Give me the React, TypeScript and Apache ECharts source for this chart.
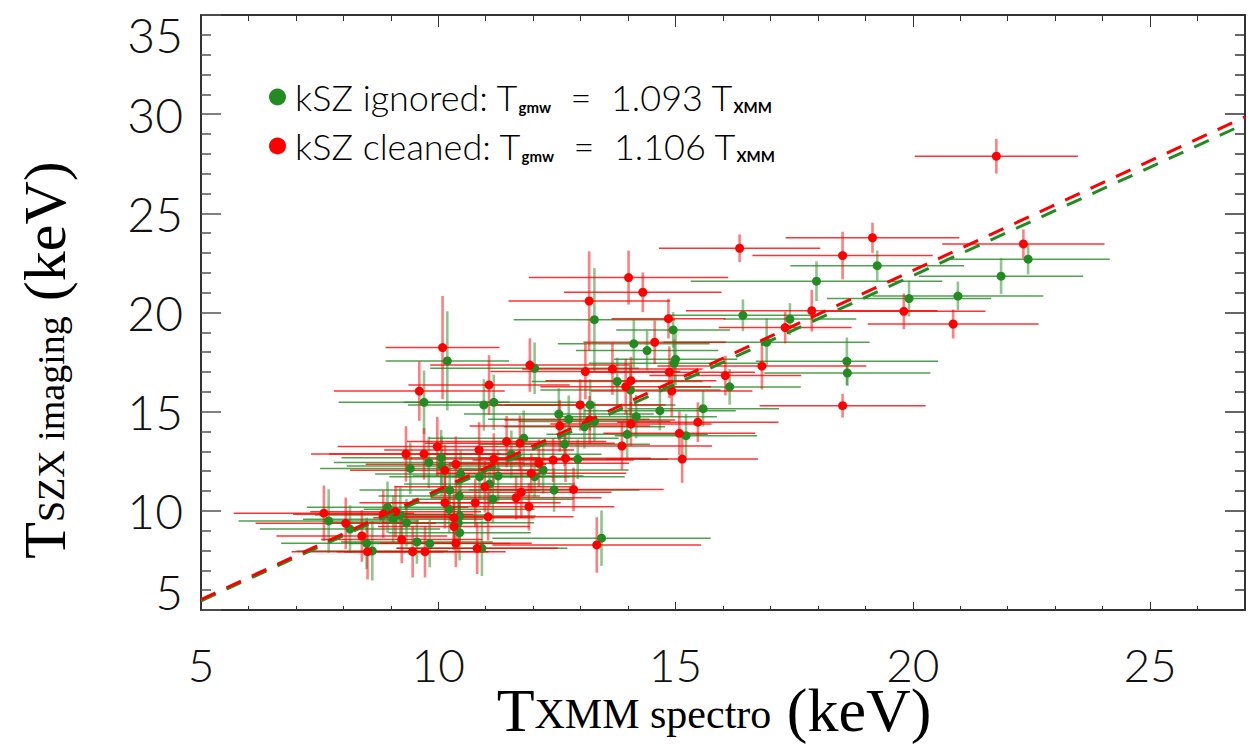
import React, { useEffect, useRef } from "react";
import * as echarts from "echarts";

// kSZ ignored (green)
const greenX = [22.43, 21.86, 20.95, 19.92, 19.25, 17.97, 18.61, 18.62, 17.41, 16.92, 16.42, 16.14, 15.58, 15.22, 15.0, 14.97, 14.95, 14.67, 14.4, 14.12, 14.17, 14.05, 13.98, 13.77, 13.44, 13.29, 13.29, 13.2, 13.08, 12.94, 12.75, 12.66, 12.54, 12.44, 12.21, 12.03, 12.03, 11.8, 11.54, 11.26, 11.17, 11.15, 11.08, 10.96, 10.92, 10.87, 10.47, 10.45, 10.45, 10.44, 10.42, 10.24, 10.23, 10.19, 10.07, 10.06, 9.82, 9.8, 9.7, 9.55, 9.41, 9.33, 9.2, 9.05, 8.93, 8.61, 8.49, 8.14, 7.69];
const greenY = [22.69, 21.83, 20.83, 20.7, 22.36, 21.58, 17.54, 16.95, 19.67, 18.5, 19.86, 16.25, 15.15, 13.79, 17.64, 17.44, 19.12, 15.05, 18.08, 18.43, 14.75, 16.09, 13.86, 16.52, 8.62, 19.64, 14.5, 15.34, 14.24, 12.6, 14.62, 13.36, 14.88, 11.05, 12.06, 17.19, 11.72, 13.66, 12.85, 11.76, 15.47, 10.58, 11.35, 15.34, 8.11, 11.72, 11.86, 9.74, 8.9, 10.75, 9.4, 11.05, 10.08, 17.56, 12.26, 12.68, 8.35, 12.44, 15.47, 8.43, 12.14, 9.4, 9.79, 9.58, 10.18, 7.98, 8.36, 9.08, 9.49];
const greenXErr = [1.72, 1.73, 1.8, 1.73, 1.83, 2.65, 1.92, 1.75, 1.4, 2.17, 1.6, 1.5, 1.6, 1.5, 1.3, 1.8, 1.2, 1.6, 1.5, 1.6, 1.7, 1.9, 1.7, 1.8, 2.3, 1.7, 1.6, 1.8, 1.7, 1.9, 1.7, 1.8, 2.0, 1.8, 1.8, 2.2, 1.9, 2.0, 1.9, 1.8, 1.9, 1.7, 1.8, 1.6, 1.8, 1.9, 1.8, 1.6, 1.5, 1.7, 1.6, 1.9, 1.8, 1.3, 2.0, 2.1, 1.7, 2.0, 1.8, 1.6, 1.9, 1.7, 1.8, 1.9, 1.7, 1.6, 1.8, 1.9, 1.9];
const greenYErr = [0.77, 0.9, 0.73, 0.9, 0.76, 1.0, 1.2, 0.65, 0.8, 1.2, 0.8, 0.9, 0.9, 1.1, 1.3, 1.2, 0.9, 1.0, 1.0, 1.2, 1.1, 1.3, 1.2, 1.2, 1.4, 2.6, 1.0, 1.3, 1.1, 1.0, 1.2, 1.1, 1.3, 1.1, 1.2, 1.3, 1.0, 1.4, 1.2, 1.3, 1.4, 1.2, 1.1, 1.3, 1.4, 1.2, 1.2, 1.3, 1.4, 1.3, 1.5, 1.3, 1.2, 2.5, 1.5, 1.4, 1.2, 1.3, 1.6, 1.1, 1.3, 1.2, 1.4, 1.2, 1.3, 1.5, 1.3, 1.2, 1.6];

// kSZ cleaned (red)
const redX = [21.76, 22.33, 20.85, 19.81, 19.15, 18.52, 18.52, 17.87, 17.31, 16.82, 16.35, 16.05, 15.47, 15.14, 15.08, 14.92, 14.87, 14.85, 14.56, 14.31, 14.06, 14.06, 14.01, 13.95, 13.87, 13.67, 13.34, 13.19, 13.18, 13.1, 12.99, 12.85, 12.68, 12.56, 12.42, 12.12, 11.96, 11.93, 11.91, 11.75, 11.72, 11.64, 11.44, 11.17, 11.07, 11.05, 10.98, 10.86, 10.82, 10.78, 10.37, 10.37, 10.33, 10.33, 10.14, 10.14, 10.09, 9.98, 9.72, 9.7, 9.6, 9.46, 9.32, 9.23, 9.1, 8.84, 8.51, 8.39, 8.05, 7.59];
const redY = [27.88, 23.46, 19.42, 20.06, 23.77, 22.87, 15.3, 20.09, 19.24, 17.3, 23.24, 16.82, 14.47, 12.61, 13.91, 16.04, 16.99, 19.69, 18.5, 21.02, 16.56, 14.38, 21.76, 16.26, 13.27, 17.15, 8.28, 14.58, 20.58, 17.02, 15.34, 11.08, 12.65, 14.28, 12.56, 12.4, 11.89, 17.35, 10.21, 10.94, 13.41, 10.66, 13.49, 12.61, 16.35, 9.7, 11.22, 13.07, 8.11, 10.41, 12.35, 8.36, 9.65, 9.21, 12.04, 10.41, 18.23, 13.24, 7.94, 12.87, 16.04, 7.94, 12.87, 8.56, 9.96, 9.83, 7.94, 8.73, 9.37, 9.88];
const redXErr = [1.72, 1.71, 1.8, 1.72, 1.83, 1.9, 1.75, 2.65, 1.4, 2.2, 1.7, 1.6, 1.7, 1.6, 1.6, 1.7, 1.8, 1.2, 1.5, 1.66, 1.8, 1.7, 2.1, 1.8, 1.9, 1.9, 2.2, 1.8, 1.7, 2.0, 1.8, 1.9, 1.8, 1.9, 1.7, 1.9, 2.0, 2.1, 1.8, 1.9, 2.0, 1.8, 2.1, 1.9, 1.7, 1.8, 1.9, 2.0, 1.7, 1.8, 1.9, 1.6, 1.7, 1.6, 2.0, 1.8, 1.2, 2.1, 1.7, 2.0, 1.8, 1.6, 2.0, 1.7, 1.8, 1.9, 1.6, 1.8, 1.9, 1.9];
const redYErr = [0.88, 0.73, 0.73, 0.9, 0.76, 1.2, 0.6, 1.05, 0.8, 1.18, 0.7, 1.0, 1.0, 1.2, 1.1, 1.3, 1.3, 1.0, 1.1, 1.0, 1.2, 1.1, 1.36, 1.4, 1.2, 1.3, 1.4, 1.2, 2.5, 1.4, 1.3, 1.1, 1.2, 1.3, 1.1, 1.2, 1.0, 1.35, 1.2, 1.3, 1.4, 1.1, 1.3, 1.3, 1.5, 1.2, 1.3, 1.4, 1.3, 1.2, 1.4, 1.2, 1.3, 1.2, 1.3, 1.3, 2.6, 1.5, 1.3, 1.3, 1.5, 1.3, 1.4, 1.2, 1.3, 1.2, 1.4, 1.3, 1.3, 1.4];

// fits: T_gmw = slope * T_XMM
const slopeIgnored = 1.093;
const slopeCleaned = 1.106;

const xMin = 5;
const xMax = 27;
const yMin = 5;
const yMax = 35;
const tickStep = 5;

const GREEN = "#228B22";
const RED = "#FF0000";
const LABEL_FONT = "Lato, 'Open Sans', 'DejaVu Sans', sans-serif";
const SERIF = "'Liberation Serif', 'DejaVu Serif', serif";

function errorSeries(name: string, xs: number[], ys: number[], exs: number[], eys: number[], color: string) {
  return {
    type: "custom",
    name,
    clip: true,
    z: 2,
    data: xs.map((x, i) => [x, ys[i], exs[i], eys[i]]),
    encode: { x: 0, y: 1 },
    renderItem: (_params: any, api: any) => {
      const x = api.value(0);
      const y = api.value(1);
      const ex = api.value(2);
      const ey = api.value(3);
      const l = api.coord([x - ex, y]);
      const r = api.coord([x + ex, y]);
      const b = api.coord([x, y - ey]);
      const t = api.coord([x, y + ey]);
      return {
        type: "group",
        children: [
          {
            type: "line",
            shape: { x1: l[0], y1: l[1], x2: r[0], y2: r[1] },
            style: { stroke: color, lineWidth: 1.5, opacity: 0.8 },
          },
          {
            type: "line",
            shape: { x1: b[0], y1: b[1], x2: t[0], y2: t[1] },
            style: { stroke: color, lineWidth: 2.6, opacity: 0.5 },
          },
        ],
      };
    },
  };
}

function axisCommon(min: number, max: number) {
  return {
    type: "value",
    min,
    max,
    interval: tickStep,
    splitLine: { show: false },
    minorSplitLine: { show: false },
    axisLine: { show: true, onZero: false, lineStyle: { color: "#333", width: 2 } },
  };
}

function titleRich(big: number, small: number) {
  return {
    big: { fontFamily: SERIF, fontSize: big, lineHeight: 50, fill: "#000" },
    small: {
      fontFamily: SERIF,
      fontSize: small,
      lineHeight: 34,
      verticalAlign: "bottom",
      fill: "#000",
    },
  };
}

export default function App() {
  const ref = useRef<HTMLDivElement>(null);

  useEffect(() => {
    const chart = echarts.init(ref.current!, null, { renderer: "svg" });
    const legendText: Record<string, string> = {
      "kSZ ignored": `kSZ ignored: T{sub|gmw}  =  ${slopeIgnored.toFixed(3)} T{sub|XMM}`,
      "kSZ cleaned": `kSZ cleaned: T{sub|gmw}  =  ${slopeCleaned.toFixed(3)} T{sub|XMM}`,
    };
    const option: any = {
      animation: false,
      backgroundColor: "#fff",
      grid: { left: 201, right: 7, top: 15, bottom: 134, containLabel: false },
      legend: {
        data: ["kSZ ignored", "kSZ cleaned"],
        orient: "vertical",
        left: 269,
        top: 75,
        padding: 0,
        itemGap: 5,
        itemWidth: 17,
        itemHeight: 17,
        icon: "circle",
        selectedMode: false,
        formatter: (name: string) => legendText[name],
        textStyle: {
          fontFamily: LABEL_FONT,
          fontWeight: 300,
          fontSize: 36,
          lineHeight: 44,
          color: "#000",
          padding: [0, 0, 0, 4],
          rich: {
            sub: {
              fontFamily: LABEL_FONT,
              fontSize: 15,
              fontWeight: "bold",
              lineHeight: 16,
              verticalAlign: "bottom",
              padding: [0, 0, 5, 0],
              color: "#000",
            },
          },
        },
      },
      xAxis: [
        {
          ...axisCommon(xMin, xMax),
          position: "bottom",
          axisTick: { show: true, inside: true, length: 8, lineStyle: { color: "#333", width: 1 } },
          minorTick: { show: true, splitNumber: 5, length: 4, lineStyle: { color: "#333", width: 1 } },
          axisLabel: {
            show: true,
            fontFamily: LABEL_FONT,
            fontWeight: 300,
            fontSize: 46,
            lineHeight: 34,
            color: "#111",
            margin: 37,
            showMaxLabel: false,
          },
        },
        {
          ...axisCommon(xMin, xMax),
          position: "top",
          axisTick: { show: true, inside: true, length: 12, lineStyle: { color: "#333", width: 1 } },
          minorTick: { show: true, splitNumber: 5, length: 6, lineStyle: { color: "#333", width: 1 } },
          axisLabel: { show: false },
        },
      ],
      yAxis: [
        {
          ...axisCommon(yMin, yMax),
          position: "left",
          axisTick: { show: true, inside: true, length: 20, lineStyle: { color: "#555", width: 1.5 } },
          minorTick: { show: true, splitNumber: 5, length: 10, lineStyle: { color: "#555", width: 1.5 } },
          axisLabel: {
            show: true,
            fontFamily: LABEL_FONT,
            fontWeight: 300,
            fontSize: 48,
            lineHeight: 38,
            color: "#111",
            margin: 18,
            verticalAlignMaxLabel: "top",
            verticalAlignMinLabel: "bottom",
          },
        },
        {
          ...axisCommon(yMin, yMax),
          position: "right",
          axisTick: { show: true, inside: true, length: 20, lineStyle: { color: "#333", width: 1.5 } },
          minorTick: { show: true, splitNumber: 5, length: 10, lineStyle: { color: "#333", width: 1.5 } },
          axisLabel: { show: false },
        },
      ],
      series: [
        errorSeries("ignored-errors", greenX, greenY, greenXErr, greenYErr, GREEN),
        errorSeries("cleaned-errors", redX, redY, redXErr, redYErr, RED),
        {
          type: "scatter",
          name: "kSZ ignored",
          data: greenX.map((x, i) => [x, greenY[i]]),
          symbol: "circle",
          symbolSize: 9,
          itemStyle: { color: GREEN, opacity: 1 },
          z: 3,
        },
        {
          type: "scatter",
          name: "kSZ cleaned",
          data: redX.map((x, i) => [x, redY[i]]),
          symbol: "circle",
          symbolSize: 9,
          itemStyle: { color: RED, opacity: 1 },
          z: 3,
        },
        {
          type: "line",
          name: "fit ignored",
          data: [
            [xMin, xMin * slopeIgnored],
            [xMax, xMax * slopeIgnored],
          ],
          showSymbol: false,
          symbol: "none",
          lineStyle: { color: GREEN, width: 3, type: [16, 12] },
          z: 4,
        },
        {
          type: "line",
          name: "fit cleaned",
          data: [
            [xMin, xMin * slopeCleaned],
            [xMax, xMax * slopeCleaned],
          ],
          showSymbol: false,
          symbol: "none",
          lineStyle: { color: RED, width: 3, type: [16, 12] },
          z: 4,
        },
      ],
      graphic: [
        {
          type: "text",
          x: 45,
          y: 360,
          rotation: Math.PI / 2,
          style: {
            text: "{big|T}{small|SZX imaging}{big| (keV)}",
            align: "center",
            verticalAlign: "middle",
            fill: "#000",
            rich: titleRich(60, 38),
          },
        },
        {
          type: "text",
          x: 714,
          y: 710,
          style: {
            text: "{big|T}{small|XMM spectro}{big| (keV)}",
            align: "center",
            verticalAlign: "middle",
            fill: "#000",
            rich: titleRich(62, 42),
          },
        },
      ],
    };
    chart.setOption(option);
    return () => chart.dispose();
  }, []);

  return (
    <div
      ref={ref}
      style={{ position: "absolute", left: 0, top: 0, width: 1252, height: 744, background: "#fff" }}
    />
  );
}
